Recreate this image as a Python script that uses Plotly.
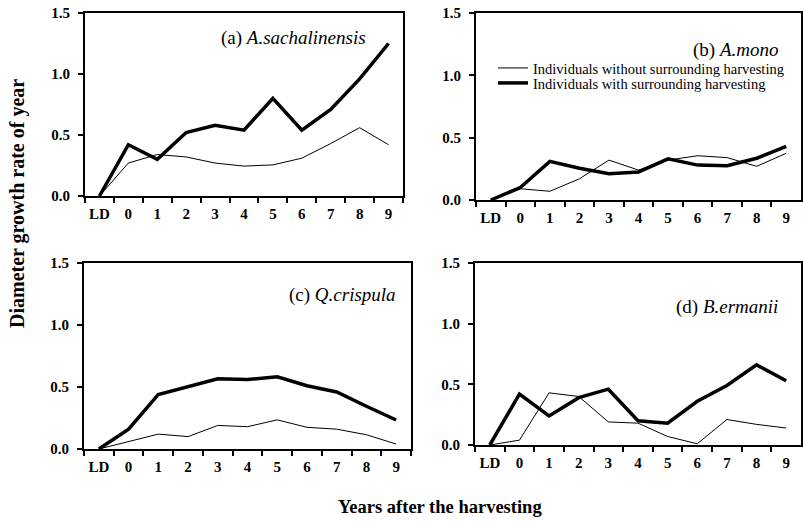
import plotly.graph_objects as go

categories = ["LD", "0", "1", "2", "3", "4", "5", "6", "7", "8", "9"]

a_without = [0, 0.27, 0.34, 0.32, 0.27, 0.245, 0.255, 0.31, 0.43, 0.56, 0.42]
a_with = [0, 0.42, 0.30, 0.52, 0.58, 0.54, 0.80, 0.54, 0.71, 0.96, 1.25]

b_without = [0, 0.09, 0.07, 0.17, 0.32, 0.24, 0.32, 0.355, 0.34, 0.27, 0.375]
b_with = [0, 0.10, 0.31, 0.255, 0.21, 0.225, 0.33, 0.28, 0.275, 0.335, 0.43]

c_without = [0, 0.06, 0.12, 0.10, 0.19, 0.18, 0.235, 0.175, 0.16, 0.115, 0.04]
c_with = [0, 0.16, 0.44, 0.505, 0.567, 0.56, 0.583, 0.51, 0.46, 0.345, 0.234]

d_without = [0, 0.04, 0.43, 0.40, 0.19, 0.18, 0.07, 0.01, 0.21, 0.17, 0.14]
d_with = [0, 0.42, 0.24, 0.39, 0.46, 0.20, 0.18, 0.36, 0.49, 0.66, 0.53]

y_ticks = [0, 0.5, 1.0, 1.5]
y_ticklabels = ["0.0", "0.5", "1.0", "1.5"]

panel_titles = [("(a) ", "A.sachalinensis"), ("(b) ", "A.mono"),
                ("(c) ", "Q.crispula"), ("(d) ", "B.ermanii")]
legend_names = ["Individuals without surrounding harvesting",
                "Individuals with surrounding harvesting"]

W, H = 803, 524
FONT = "Liberation Serif"

# pixel boxes: left, right, top, bottom
boxes = [(85, 403, 13, 196), (476, 801, 13, 200),
         (84, 411, 263, 449), (475, 801, 263, 445)]
title_pos = [(368, 38), (780, 50), (398, 295), (780, 307)]

series = [(a_without, a_with), (b_without, b_with),
          (c_without, c_with), (d_without, d_with)]

fig = go.Figure()
layout = {}
for i, ((l, r, t, b), (wo, wi)) in enumerate(zip(boxes, series)):
    n = "" if i == 0 else str(i + 1)
    xa, ya = "x" + n, "y" + n
    fig.add_trace(go.Scatter(x=categories, y=wo, mode="lines", xaxis=xa, yaxis=ya,
                             line=dict(color="black", width=1),
                             name=legend_names[0], showlegend=(i == 1),
                             legend="legend"))
    fig.add_trace(go.Scatter(x=categories, y=wi, mode="lines", xaxis=xa, yaxis=ya,
                             line=dict(color="black", width=3.5),
                             name=legend_names[1], showlegend=(i == 1),
                             legend="legend2"))
    layout["xaxis" + n] = dict(
        domain=[l / W, r / W], anchor=ya, type="category",
        categoryorder="array", categoryarray=categories,
        tickson="boundaries", ticks="outside", ticklen=5, tickwidth=1.5,
        tickcolor="black", showline=True, linecolor="black", linewidth=2,
        mirror=True, showgrid=False, zeroline=False, tickangle=0,
        automargin=False, ticklabelstandoff=3,
        tickfont=dict(family=FONT, size=15, color="black", weight="bold"),
        range=[-0.5, 10.5], fixedrange=True)
    layout["yaxis" + n] = dict(
        domain=[1 - b / H, 1 - t / H], anchor=xa, range=[0, 1.5],
        tickvals=y_ticks, ticktext=y_ticklabels,
        ticks="outside", ticklen=5, tickwidth=1.5, tickcolor="black",
        showline=True, linecolor="black", linewidth=2, mirror=True,
        showgrid=False, zeroline=False, ticklabelstandoff=5, automargin=False,
        tickfont=dict(family=FONT, size=15, color="black", weight="bold"),
        fixedrange=True)

annotations = []
for (pre, ital), (px, py) in zip(panel_titles, title_pos):
    annotations.append(dict(
        text=pre + "<i>" + ital + "</i>", xref="paper", yref="paper",
        x=px / W, y=1 - py / H, xanchor="right", yanchor="middle",
        showarrow=False, font=dict(family=FONT, size=19, color="black")))
annotations.append(dict(
    text="<b>Diameter growth rate of year</b>", xref="paper", yref="paper",
    x=17 / W, y=1 - 204 / H, textangle=-90, xanchor="center", yanchor="middle",
    showarrow=False, font=dict(family=FONT, size=20, color="black")))
annotations.append(dict(
    text="<b>Years after the harvesting</b>", xref="paper", yref="paper",
    x=440 / W, y=1 - 507 / H, xanchor="center", yanchor="middle",
    showarrow=False, font=dict(family=FONT, size=18.5, color="black")))

legend_common = dict(xanchor="left", yanchor="middle",
                     bgcolor="rgba(0,0,0,0)", borderwidth=0,
                     font=dict(family=FONT, size=14.5, color="black"),
                     itemwidth=30)

fig.update_layout(
    width=W, height=H, margin=dict(l=0, r=0, t=0, b=0, autoexpand=False),
    paper_bgcolor="white", plot_bgcolor="white",
    font=dict(family=FONT, color="black"),
    annotations=annotations,
    showlegend=True,
    legend=dict(x=493 / W, y=1 - 68 / H, **legend_common),
    legend2=dict(x=493 / W, y=1 - 83 / H, **legend_common),
    **layout)

fig.write_html("out.html",
               config={"displayModeBar": False},
               post_script="document.body.style.margin='0px';"
                           "document.body.style.padding='0px';")
